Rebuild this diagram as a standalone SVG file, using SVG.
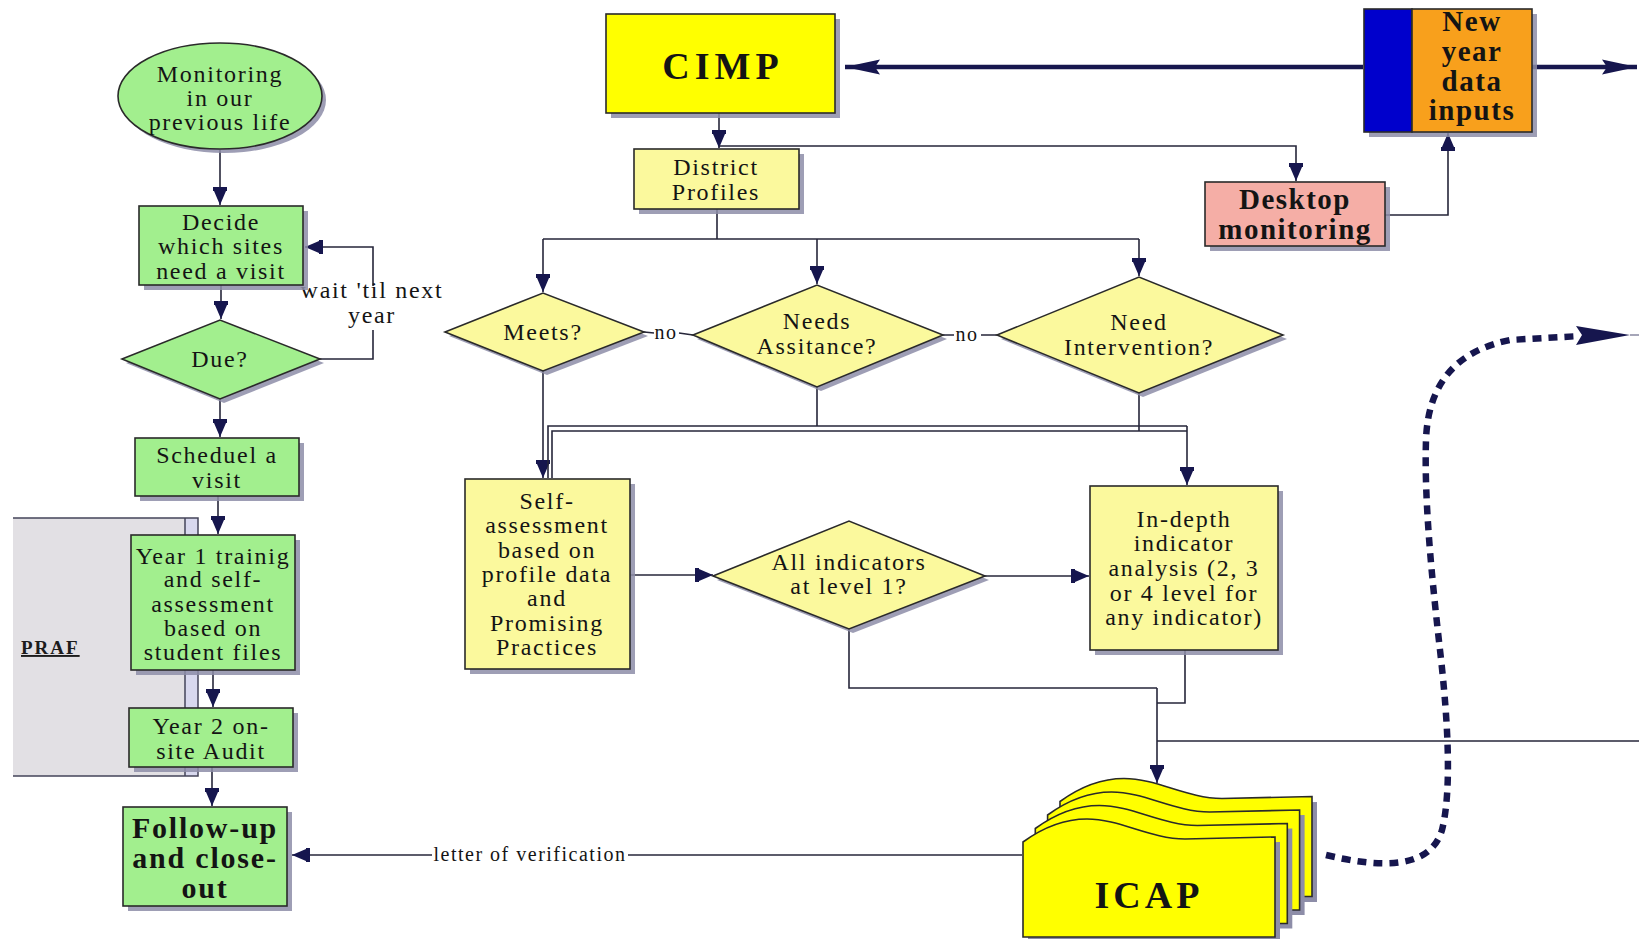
<svg xmlns="http://www.w3.org/2000/svg" xmlns:xlink="http://www.w3.org/1999/xlink" width="1639" height="939" viewBox="0 0 1639 939">
<defs>
<style>
.t{font-family:"Liberation Serif","Times New Roman",serif;font-size:24px;letter-spacing:1.7px;fill:#141414;text-anchor:middle}
.b{font-weight:bold;font-size:29px;letter-spacing:1.5px}
.sm{font-size:20px;letter-spacing:1.5px}
.ln{fill:none;stroke:#26263a;stroke-width:1.6}
.ar{marker-end:url(#ah)}
.thick{fill:none;stroke:#17174e;stroke-width:4.5;marker-end:url(#ahb)}
.sh{fill:#8d8da8;opacity:.85}
.g{fill:#a2ef8e;stroke:#2a2a2a;stroke-width:1.6}
.y{fill:#fbf99d;stroke:#2a2a2a;stroke-width:1.6}
.yy{fill:#ffff00;stroke:#2a2a2a;stroke-width:1.6}
</style>
<marker id="ah" markerUnits="userSpaceOnUse" markerWidth="19" markerHeight="16" refX="18" refY="8" orient="auto">
<path d="M0,1 L4,1 L4,2 L18,8 L4,14 L4,15 L0,15 Z" fill="#16164e"/>
</marker>
<marker id="ahb" markerUnits="userSpaceOnUse" markerWidth="36" markerHeight="18" refX="35" refY="9" orient="auto">
<path d="M0,1.5 L35,9 L0,16.5 L5,9 Z" fill="#16164e"/>
</marker>
<path id="page" d="M1023,842 C1045,826 1065,819 1087,819 C1120,819 1150,839 1185,839 L1275,837 L1275,937 L1023,937 Z"/>
</defs>

<g id="connectors">
<path class="ln ar" d="M220,150 V205"/>
<path class="ln ar" d="M221,285 V319"/>
<path class="ln ar" d="M220,399 V437"/>
<path class="ln ar" d="M218,496 V534"/>
<path class="ln ar" d="M213,670 V707"/>
<path class="ln ar" d="M212,767 V806"/>
<path class="ln" d="M320,359 H373 V330"/>
<path class="ln ar" d="M373,286 V247 H305"/>
<path class="thick" d="M1363,67 H845"/>
<path class="thick" d="M1532,67 H1637"/>
<path class="ln ar" d="M719,113 V148"/>
<path class="ln ar" d="M719,146 H1296 V181"/>
<path class="ln ar" d="M1385,215 H1448 V133"/>
<path class="ln" d="M717,209 V239 M543,239 H1139"/>
<path class="ln ar" d="M543,239 V292"/>
<path class="ln ar" d="M817,239 V284"/>
<path class="ln ar" d="M1139,239 V276"/>
<path class="ln" d="M644,332 L654,333 M679,333 L693,335"/>
<path class="ln" d="M943,335 H954 M981,335 H997"/>
<path class="ln ar" d="M543,371 V478"/>
<path class="ln" d="M817,387 V426 M1139,393 V431"/>
<path class="ln" d="M548,478 V426 H1187 M552,478 V431 H1187"/>
<path class="ln ar" d="M1187,426 V485"/>
<path class="ln ar" d="M630,575 H713"/>
<path class="ln ar" d="M985,576 H1089"/>
<path class="ln" d="M849,629 V688 H1157"/>
<path class="ln" d="M1185,650 V703 H1157"/>
<path class="ln ar" d="M1157,688 V783"/>
<path class="ln" d="M1157,741 H1639"/>
<path class="ln" d="M1022,855 H628"/>
<path class="ln ar" d="M432,855 H292"/>
<path d="M1326,855 C1380,868 1430,870 1442,830 C1452,790 1448,720 1440,650 C1432,580 1424,500 1426,440 C1428,380 1460,350 1510,340 L1580,336" fill="none" stroke="#16164e" stroke-width="6.5" stroke-dasharray="9 7"/>
<path d="M1576,326 L1630,335 L1576,345 L1582,335 Z" fill="#16164e"/>
<path d="M1630,335 H1639" stroke="#8888a0" stroke-width="1.5"/>
</g>

<g id="texts-labels">
<text class="t" x="372" y="298">wait 'til next</text>
<text class="t" x="372" y="323">year</text>
<text class="t sm" x="666" y="339">no</text>
<text class="t sm" x="967" y="341">no</text>
<text class="t sm" x="530" y="861">letter of verification</text>
</g>

<g id="n-monitoring">
<ellipse class="sh" cx="224" cy="100" rx="102" ry="53"/>
<ellipse class="g" cx="220" cy="96" rx="102" ry="53"/>
<text class="t" x="220" y="82">Monitoring</text>
<text class="t" x="220" y="106">in our</text>
<text class="t" x="220" y="130">previous life</text>
</g>

<g id="n-decide">
<rect class="sh" x="144" y="211" width="164" height="79"/>
<rect class="g" x="139" y="206" width="164" height="79"/>
<text class="t" x="221" y="230">Decide</text>
<text class="t" x="221" y="254">which sites</text>
<text class="t" x="221" y="279">need a visit</text>
</g>

<g id="n-due">
<polygon class="sh" points="126,363 224,324 324,363 224,403"/>
<polygon class="g" points="122,359 220,320 320,359 220,399"/>
<text class="t" x="220" y="367">Due?</text>
</g>

<g id="n-schedule">
<rect class="sh" x="140" y="443" width="164" height="58"/>
<rect class="g" x="135" y="438" width="164" height="58"/>
<text class="t" x="217" y="463">Scheduel a</text>
<text class="t" x="217" y="488">visit</text>
</g>

<g id="n-praf">
<rect x="13" y="518" width="185" height="258" fill="#d8d8ee"/>
<rect x="13" y="518" width="172" height="258" fill="#e2e0e4"/>
<path d="M13,518 H198 V776 H13 M185,518 V776" fill="none" stroke="#44445a" stroke-width="1.5"/>
<text x="21" y="654" font-family="Liberation Serif, serif" font-weight="bold" font-size="19" letter-spacing="2" text-decoration="underline" fill="#1c1c1c">PRAF</text>
</g>

<g id="n-year1">
<rect class="sh" x="136" y="540" width="164" height="135"/>
<rect class="g" x="131" y="535" width="164" height="135"/>
<text class="t" x="213" y="564">Year 1 trainig</text>
<text class="t" x="213" y="587">and self-</text>
<text class="t" x="213" y="612">assessment</text>
<text class="t" x="213" y="636">based on</text>
<text class="t" x="213" y="660">student files</text>
</g>

<g id="n-year2">
<rect class="sh" x="134" y="713" width="164" height="59"/>
<rect class="g" x="129" y="708" width="164" height="59"/>
<text class="t" x="211" y="734">Year 2 on-</text>
<text class="t" x="211" y="759">site Audit</text>
</g>

<g id="n-followup">
<rect class="sh" x="128" y="812" width="164" height="99"/>
<rect class="g" x="123" y="807" width="164" height="99"/>
<text class="t b" x="205" y="838" style="font-size:30px;letter-spacing:1.8px">Follow-up</text>
<text class="t b" x="205" y="868" style="font-size:30px;letter-spacing:1.8px">and close-</text>
<text class="t b" x="205" y="898" style="font-size:30px;letter-spacing:1.8px">out</text>
</g>

<g id="n-cimp">
<rect class="sh" x="611" y="19" width="229" height="99"/>
<rect class="yy" x="606" y="14" width="229" height="99"/>
<text class="t b" x="723" y="79" style="font-size:38px;letter-spacing:5px">CIMP</text>
</g>

<g id="n-newyear">
<rect class="sh" x="1369" y="14" width="168" height="123"/>
<rect x="1364" y="9" width="48" height="123" fill="#0000cc" stroke="#2a2a2a" stroke-width="1.6"/>
<rect x="1412" y="9" width="120" height="123" fill="#f8a01c" stroke="#2a2a2a" stroke-width="1.6"/>
<text class="t b" x="1472" y="31">New</text>
<text class="t b" x="1472" y="61">year</text>
<text class="t b" x="1472" y="91">data</text>
<text class="t b" x="1472" y="120">inputs</text>
</g>

<g id="n-desktop">
<rect class="sh" x="1210" y="187" width="180" height="64"/>
<rect x="1205" y="182" width="180" height="64" fill="#f5aea6" stroke="#2a2a2a" stroke-width="1.6"/>
<text class="t b" x="1295" y="209">Desktop</text>
<text class="t b" x="1295" y="239">monitoring</text>
</g>

<g id="n-district">
<rect class="sh" x="639" y="154" width="165" height="60"/>
<rect class="y" x="634" y="149" width="165" height="60"/>
<text class="t" x="716" y="175">District</text>
<text class="t" x="716" y="200">Profiles</text>
</g>

<g id="n-meets">
<polygon class="sh" points="449,336 547,297 648,336 547,375"/>
<polygon class="y" points="445,332 543,293 644,332 543,371"/>
<text class="t" x="543" y="340">Meets?</text>
</g>

<g id="n-needs">
<polygon class="sh" points="697,339 821,289 947,339 821,391"/>
<polygon class="y" points="693,335 817,285 943,335 817,387"/>
<text class="t" x="817" y="329">Needs</text>
<text class="t" x="817" y="354">Assitance?</text>
</g>

<g id="n-intervention">
<polygon class="sh" points="1001,339 1143,281 1287,339 1143,397"/>
<polygon class="y" points="997,335 1139,277 1283,335 1139,393"/>
<text class="t" x="1139" y="330">Need</text>
<text class="t" x="1139" y="355">Intervention?</text>
</g>

<g id="n-self">
<rect class="sh" x="470" y="484" width="165" height="190"/>
<rect class="y" x="465" y="479" width="165" height="190"/>
<text class="t" x="547" y="509">Self-</text>
<text class="t" x="547" y="533">assessment</text>
<text class="t" x="547" y="558">based on</text>
<text class="t" x="547" y="582">profile data</text>
<text class="t" x="547" y="606">and</text>
<text class="t" x="547" y="631">Promising</text>
<text class="t" x="547" y="655">Practices</text>
</g>

<g id="n-allind">
<polygon class="sh" points="717,580 853,525 989,580 853,633"/>
<polygon class="y" points="713,576 849,521 985,576 849,629"/>
<text class="t" x="849" y="570">All indicators</text>
<text class="t" x="849" y="594">at level 1?</text>
</g>

<g id="n-indepth">
<rect class="sh" x="1095" y="491" width="188" height="164"/>
<rect class="y" x="1090" y="486" width="188" height="164"/>
<text class="t" x="1184" y="527">In-depth</text>
<text class="t" x="1184" y="551">indicator</text>
<text class="t" x="1184" y="576">analysis (2, 3</text>
<text class="t" x="1184" y="601">or 4 level for</text>
<text class="t" x="1184" y="625">any indicator)</text>
</g>

<g id="n-icap">
<use xlink:href="#page" transform="translate(42,-35)" fill="#8d8da8"/>
<use xlink:href="#page" transform="translate(37,-40.5)" fill="#ffff00" stroke="#2a2a2a" stroke-width="1.6"/>
<use xlink:href="#page" transform="translate(29.6,-22)" fill="#8d8da8"/>
<use xlink:href="#page" transform="translate(24.6,-27)" fill="#ffff00" stroke="#2a2a2a" stroke-width="1.6"/>
<use xlink:href="#page" transform="translate(17.3,-8.5)" fill="#8d8da8"/>
<use xlink:href="#page" transform="translate(12.3,-13.5)" fill="#ffff00" stroke="#2a2a2a" stroke-width="1.6"/>
<use xlink:href="#page" transform="translate(5,5)" fill="#8d8da8"/>
<use xlink:href="#page" fill="#ffff00" stroke="#2a2a2a" stroke-width="1.6"/>
<text class="t b" x="1149" y="908" style="font-size:38px;letter-spacing:4px">ICAP</text>
</g>
</svg>
